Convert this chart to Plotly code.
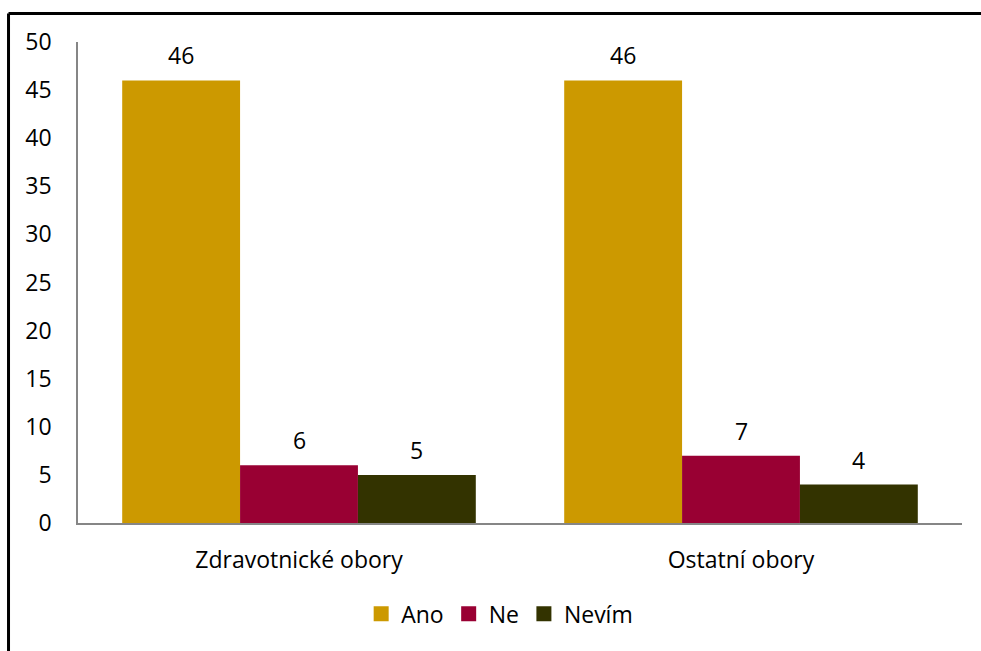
import plotly.graph_objects as go

# Survey answers by field of study
categories = ["Zdravotnické obory", "Ostatní obory"]
series_names = ["Ano", "Ne", "Nevím"]
ano = [46, 46]
ne = [6, 7]
nevim = [5, 4]
y_ticks = [0, 5, 10, 15, 20, 25, 30, 35, 40, 45, 50]

colors = ["#CC9900", "#990033", "#333300"]
values = [ano, ne, nevim]
FONT = "Open Sans"
FS = 23

fig = go.Figure()
for name, vals, col in zip(series_names, values, colors):
    fig.add_trace(go.Bar(
        x=categories, y=vals, name=name, showlegend=False,
        marker=dict(color=col, line=dict(width=0)),
    ))

# square legend swatches
for name, col in zip(series_names, colors):
    fig.add_trace(go.Scatter(
        x=[None], y=[None], mode="markers", name=name,
        marker=dict(symbol="square", size=15, color=col),
    ))

# value labels above each bar
bar_w = 0.8 / len(series_names)
annotations = []
for s, vals in enumerate(values):
    off = (s - 1) * bar_w
    for i, v in enumerate(vals):
        annotations.append(dict(
            x=i + off, y=v, xref="x", yref="y", text=str(v),
            showarrow=False, yshift=25, yanchor="middle",
            font=dict(family=FONT, size=FS, color="#000000"),
        ))

fig.update_layout(
    width=981, height=651,
    margin=dict(l=78, r=19, t=42, b=128),
    paper_bgcolor="white", plot_bgcolor="white",
    barmode="group", bargap=0.2, bargroupgap=0,
    font=dict(family=FONT, size=FS, color="#000000"),
    showlegend=True,
    legend=dict(orientation="h", x=0.477, xanchor="center", y=-0.189, yanchor="middle",
                font=dict(family=FONT, size=FS), itemwidth=30, traceorder="normal",
                itemsizing="trace"),
    annotations=annotations,
    shapes=[
        dict(type="line", xref="paper", yref="paper", x0=-0.0786, x1=1.2, y0=1.0593, y1=1.0593,
             line=dict(color="black", width=3)),
        dict(type="line", xref="paper", yref="paper", x0=-0.0786, x1=-0.0786, y0=-0.4, y1=1.0593,
             line=dict(color="black", width=3)),
    ],
)
fig.update_xaxes(showline=True, linecolor="#868686", linewidth=1.5, showgrid=False,
                 ticks="", tickfont=dict(family=FONT, size=FS), ticklabelstandoff=16)
fig.update_yaxes(range=[0, 50], tickvals=y_ticks, showline=True, linecolor="#868686",
                 linewidth=1.5, showgrid=False, ticks="", zeroline=False,
                 tickfont=dict(family=FONT, size=FS), ticklabelstandoff=20)

fig.write_html("out.html")
